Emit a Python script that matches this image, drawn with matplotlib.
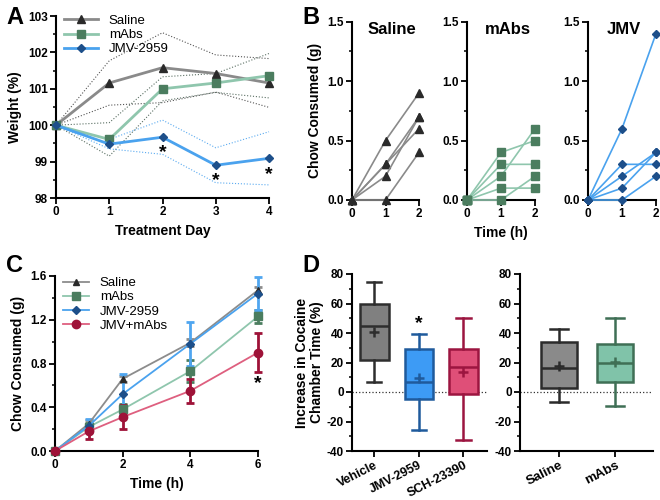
import matplotlib
matplotlib.use("Agg")
import matplotlib.pyplot as plt
import numpy as np
from matplotlib.ticker import MultipleLocator

plt.rcParams['font.family'] = ['Liberation Sans', 'DejaVu Sans']
plt.rcParams['font.weight'] = 'bold'
plt.rcParams['axes.unicode_minus'] = False

# ---------------- data ----------------
# Panel A: weight (%) over treatment days (mean and SEM)
days = [0, 1, 2, 3, 4]
saline_w = [100, 101.16, 101.58, 101.42, 101.16]
saline_w_sem = [0, 0.61, 0.96, 0.51, 0.67]
mabs_w = [100, 99.61, 101.0, 101.16, 101.36]
mabs_w_sem = [0, 0.46, 0.33, 0.26, 0.61]
jmv_w = [100, 99.48, 99.67, 98.90, 99.09]
jmv_w_sem = [0, 0.13, 0.47, 0.48, 0.73]
a_star_days = [2, 3, 4]

# Panel B: individual chow consumption (g) at 0, 1, 2 h
b_time = [0, 1, 2]
b_saline = [[0, 0.5, 0.9], [0, 0.3, 0.7], [0, 0.3, 0.6], [0, 0.2, 0.7], [0, 0.0, 0.4]]
b_mabs = [[0, 0.4, 0.5], [0, 0.3, 0.3], [0, 0.2, 0.6], [0, 0.1, 0.1], [0, 0.0, 0.2]]
b_jmv = [[0, 0.6, 1.4], [0, 0.3, 0.3], [0, 0.2, 0.4], [0, 0.1, 0.4], [0, 0.0, 0.2]]

# Panel C: cumulative chow consumed (g), mean and SEM
c_time = [0, 1, 2, 4, 6]
c_saline = [0, 0.25, 0.66, 0.99, 1.47]
c_saline_sem = [0, 0.03, 0.03, 0.03, 0.03]
c_mabs = [0, 0.22, 0.38, 0.73, 1.23]
c_mabs_sem = [0, 0.04, 0.05, 0.10, 0.06]
c_jmv = [0, 0.23, 0.52, 0.98, 1.44]
c_jmv_sem = [0, 0.06, 0.18, 0.20, 0.15]
c_combo = [0, 0.18, 0.31, 0.55, 0.90]
c_combo_sem = [0, 0.07, 0.11, 0.11, 0.18]

# Panel D: box plot statistics (min, q1, median, q3, max, mean)
d_left_labels = ['Vehicle', 'JMV-2959', 'SCH-23390']
d_left_min = [6.6, -26, -32.8]
d_left_q1 = [22, -4.5, -1.6]
d_left_med = [44.7, 6.6, 17]
d_left_q3 = [60, 29, 29.4]
d_left_max = [74.3, 39.5, 50.4]
d_left_mean = [40.7, 9.3, 13.6]

d_right_labels = ['Saline', 'mAbs']
d_right_min = [-7, -9.3]
d_right_q1 = [3, 7]
d_right_med = [16, 19.4]
d_right_q3 = [34, 32.3]
d_right_max = [43, 50]
d_right_mean = [17.9, 20.3]

# ---------------- styles ----------------
GRAY_L, GRAY_M = '#8a8a8a', '#2a2a2a'
GREEN_L, GREEN_M = '#8fc6ad', '#4b7d5f'
BLUE_L, BLUE_M = '#4aa2ee', '#1d4f8a'
RED_L, RED_M = '#de5f7f', '#9e1238'

W, H = 660, 500
fig = plt.figure(figsize=(6.6, 5.0), dpi=100)


def add_ax(left, right, top, bottom):
    return fig.add_axes([left / W, 1 - bottom / H, (right - left) / W, (bottom - top) / H])


def style(ax):
    for s in ['top', 'right']:
        ax.spines[s].set_visible(False)
    for s in ['left', 'bottom']:
        ax.spines[s].set_linewidth(1.5)
    ax.tick_params(which='major', length=4, width=1.3, labelsize=8.5, pad=2)
    ax.tick_params(which='minor', length=2.5, width=1.1)
    for lab in ax.get_xticklabels() + ax.get_yticklabels():
        lab.set_fontweight('bold')


# ---------------- Panel A ----------------
axA = add_ax(56, 269, 16, 198)
for mean, sem, lc, dc, mc, mk, ms, lab in [
        (saline_w, saline_w_sem, GRAY_L, '#555555', GRAY_M, '^', 5.5, 'Saline'),
        (mabs_w, mabs_w_sem, GREEN_L, '#5a6f63', GREEN_M, 's', 5.5, 'mAbs'),
        (jmv_w, jmv_w_sem, BLUE_L, '#5aaaf0', BLUE_M, 'D', 4, 'JMV-2959')]:
    m = np.array(mean)
    s = np.array(sem)
    axA.plot(days, m + s, ls=':', color=dc, lw=0.8, clip_on=False)
    axA.plot(days, m - s, ls=':', color=dc, lw=0.8, clip_on=False)
    axA.plot(days, m, color=lc, lw=2, marker=mk, ms=ms, mfc=mc, mec=mc,
             label=lab, clip_on=False, zorder=3)
for d in a_star_days:
    axA.text(d, jmv_w[d] - 0.2, '*', ha='center', va='top', fontsize=14, fontweight='bold')
axA.set_xlim(0, 4)
axA.set_ylim(98, 103)
axA.set_xticks(days)
axA.set_yticks([98, 99, 100, 101, 102, 103])
axA.yaxis.set_minor_locator(MultipleLocator(0.5))
axA.set_ylabel('Weight (%)', fontsize=10, fontweight='bold', labelpad=4)
axA.set_xlabel('Treatment Day', fontsize=10, fontweight='bold', labelpad=4)
style(axA)
legA = axA.legend(loc='upper left', bbox_to_anchor=(0.0, 1.05), frameon=False,
                  prop={'size': 9.5, 'weight': 'normal'}, handlelength=2.6,
                  handletextpad=0.8, labelspacing=0.15, borderaxespad=0.2)

# ---------------- Panel B ----------------
b_sets = [
    (352, 419, b_saline, 'Saline', GRAY_L, GRAY_M, '^', 5.5, 0.6),
    (467, 535, b_mabs, 'mAbs', GREEN_L, GREEN_M, 's', 5.5, 0.6),
    (588, 656, b_jmv, 'JMV', BLUE_L, BLUE_M, 'D', 4, 0.52),
]
b_axes = []
for left, right, data, title, lc, mc, mk, ms, tx in b_sets:
    ax = add_ax(left, right, 21.7, 200)
    for subj in data:
        ax.plot(b_time, subj, color=lc, lw=1.2, marker=mk, ms=ms, mfc=mc, mec=mc,
                clip_on=False, zorder=3)
    ax.set_xlim(0, 2)
    ax.set_ylim(0, 1.5)
    ax.set_xticks(b_time)
    ax.set_yticks([0, 0.5, 1.0, 1.5])
    ax.set_yticklabels(['0.0', '0.5', '1.0', '1.5'])
    ax.yaxis.set_minor_locator(MultipleLocator(0.25))
    ax.text(tx, 1.0, title, transform=ax.transAxes, ha='center', va='top',
            fontsize=12, fontweight='bold')
    style(ax)
    b_axes.append(ax)
b_axes[0].set_ylabel('Chow Consumed (g)', fontsize=10, fontweight='bold', labelpad=4)
b_axes[1].set_xlabel('Time (h)', fontsize=10, fontweight='bold', labelpad=4)

# ---------------- Panel C ----------------
axC = add_ax(55, 258, 276, 451)
for mean, sem, lc, ec, mc, mk, ms, lab in [
        (c_saline, c_saline_sem, '#8c8c8c', '#8c8c8c', GRAY_M, '^', 5, 'Saline'),
        (c_mabs, c_mabs_sem, GREEN_L, GREEN_M, GREEN_M, 's', 5.5, 'mAbs'),
        (c_jmv, c_jmv_sem, BLUE_L, '#4fa6f0', BLUE_M, 'D', 4, 'JMV-2959'),
        (c_combo, c_combo_sem, RED_L, RED_M, RED_M, 'o', 6, 'JMV+mAbs')]:
    axC.errorbar(c_time, mean, yerr=sem, fmt='none', ecolor=ec, elinewidth=2,
                 capsize=3, capthick=2, clip_on=False, zorder=2)
    axC.plot(c_time, mean, color=lc, lw=1.3, marker=mk, ms=ms, mfc=mc, mec=mc,
             label=lab, clip_on=False, zorder=3)
axC.text(6, c_combo[4] - c_combo_sem[4] - 0.03, '*', ha='center', va='top',
         fontsize=14, fontweight='bold')
axC.set_xlim(0, 6)
axC.set_ylim(0, 1.6)
axC.set_xticks([0, 2, 4, 6])
axC.set_yticks([0, 0.4, 0.8, 1.2, 1.6])
axC.set_yticklabels(['0.0', '0.4', '0.8', '1.2', '1.6'])
axC.yaxis.set_minor_locator(MultipleLocator(0.2))
axC.set_ylabel('Chow Consumed (g)', fontsize=10, fontweight='bold', labelpad=4)
axC.set_xlabel('Time (h)', fontsize=10, fontweight='bold', labelpad=4)
style(axC)
axC.legend(loc='upper left', bbox_to_anchor=(0.0, 1.04), frameon=False,
           prop={'size': 9.5, 'weight': 'normal'}, handlelength=2.0,
           handletextpad=0.8, labelspacing=0.15, borderaxespad=0.2)

# ---------------- Panel D ----------------
def make_stats(labels, mn, q1, med, q3, mx, mean):
    return [dict(label=l, whislo=a, q1=b, med=c, q3=d, whishi=e, mean=f, fliers=[])
            for l, a, b, c, d, e, f in zip(labels, mn, q1, med, q3, mx, mean)]


def draw_box(ax, stats, faces, edges):
    pos = list(range(1, len(stats) + 1))
    bp = ax.bxp(stats, positions=pos, widths=0.64, patch_artist=True,
                showmeans=True, showfliers=False)
    for i, (fc, ec) in enumerate(zip(faces, edges)):
        bp['boxes'][i].set(facecolor=fc, edgecolor=ec, linewidth=1.8)
        bp['medians'][i].set(color=ec, linewidth=1.8)
        for w in bp['whiskers'][2 * i:2 * i + 2]:
            w.set(color=ec, linewidth=1.8)
        for c in bp['caps'][2 * i:2 * i + 2]:
            c.set(color=ec, linewidth=1.8)
        bp['means'][i].set(marker='+', markersize=7, markeredgecolor=ec,
                           markeredgewidth=1.8, markerfacecolor=ec)
    return pos


axD1 = add_ax(352, 487, 274, 451)
axD1.axhline(0, ls=':', color='#333333', lw=0.9, zorder=0)
pos1 = draw_box(axD1, make_stats(d_left_labels, d_left_min, d_left_q1, d_left_med,
                                 d_left_q3, d_left_max, d_left_mean),
                ['#808080', '#3d9bf5', '#df4f78'], ['#2e2e2e', '#1f5a9c', '#9c1540'])
axD1.text(2, d_left_max[1] + 1, '*', ha='center', va='bottom', fontsize=14,
          fontweight='bold')
axD1.set_xlim(0.5, 3.53)
axD1.set_ylim(-40, 80)
axD1.set_yticks([-40, -20, 0, 20, 40, 60, 80])
axD1.yaxis.set_minor_locator(MultipleLocator(10))
axD1.set_ylabel('Increase in Cocaine\nChamber Time (%)', fontsize=10,
                fontweight='bold', labelpad=2, linespacing=1.1)
style(axD1)
axD1.set_xticks(pos1)
axD1.set_xticklabels(d_left_labels, rotation=27, ha='right', rotation_mode='anchor',
                     fontsize=9, fontweight='bold')

axD2 = add_ax(520, 653, 274, 451)
axD2.axhline(0, ls=':', color='#333333', lw=0.9, zorder=0)
pos2 = draw_box(axD2, make_stats(d_right_labels, d_right_min, d_right_q1, d_right_med,
                                 d_right_q3, d_right_max, d_right_mean),
                ['#8a8a8a', '#80c3a9'], ['#2b2b2b', '#3f6f55'])
axD2.set_xlim(0.3, 2.67)
axD2.set_ylim(-40, 80)
axD2.set_yticks([-40, -20, 0, 20, 40, 60, 80])
axD2.yaxis.set_minor_locator(MultipleLocator(10))
style(axD2)
axD2.set_xticks(pos2)
axD2.set_xticklabels(d_right_labels, rotation=27, ha='right', rotation_mode='anchor',
                     fontsize=9.5, fontweight='bold')

# ---------------- Panel letters ----------------
for x, y, t in [(6, 6, 'A'), (302, 6, 'B'), (6, 254, 'C'), (302, 254, 'D')]:
    fig.text(x / W, 1 - y / H, t, ha='left', va='top', fontsize=17, fontweight='bold')

fig.savefig('out.png', dpi=100)
